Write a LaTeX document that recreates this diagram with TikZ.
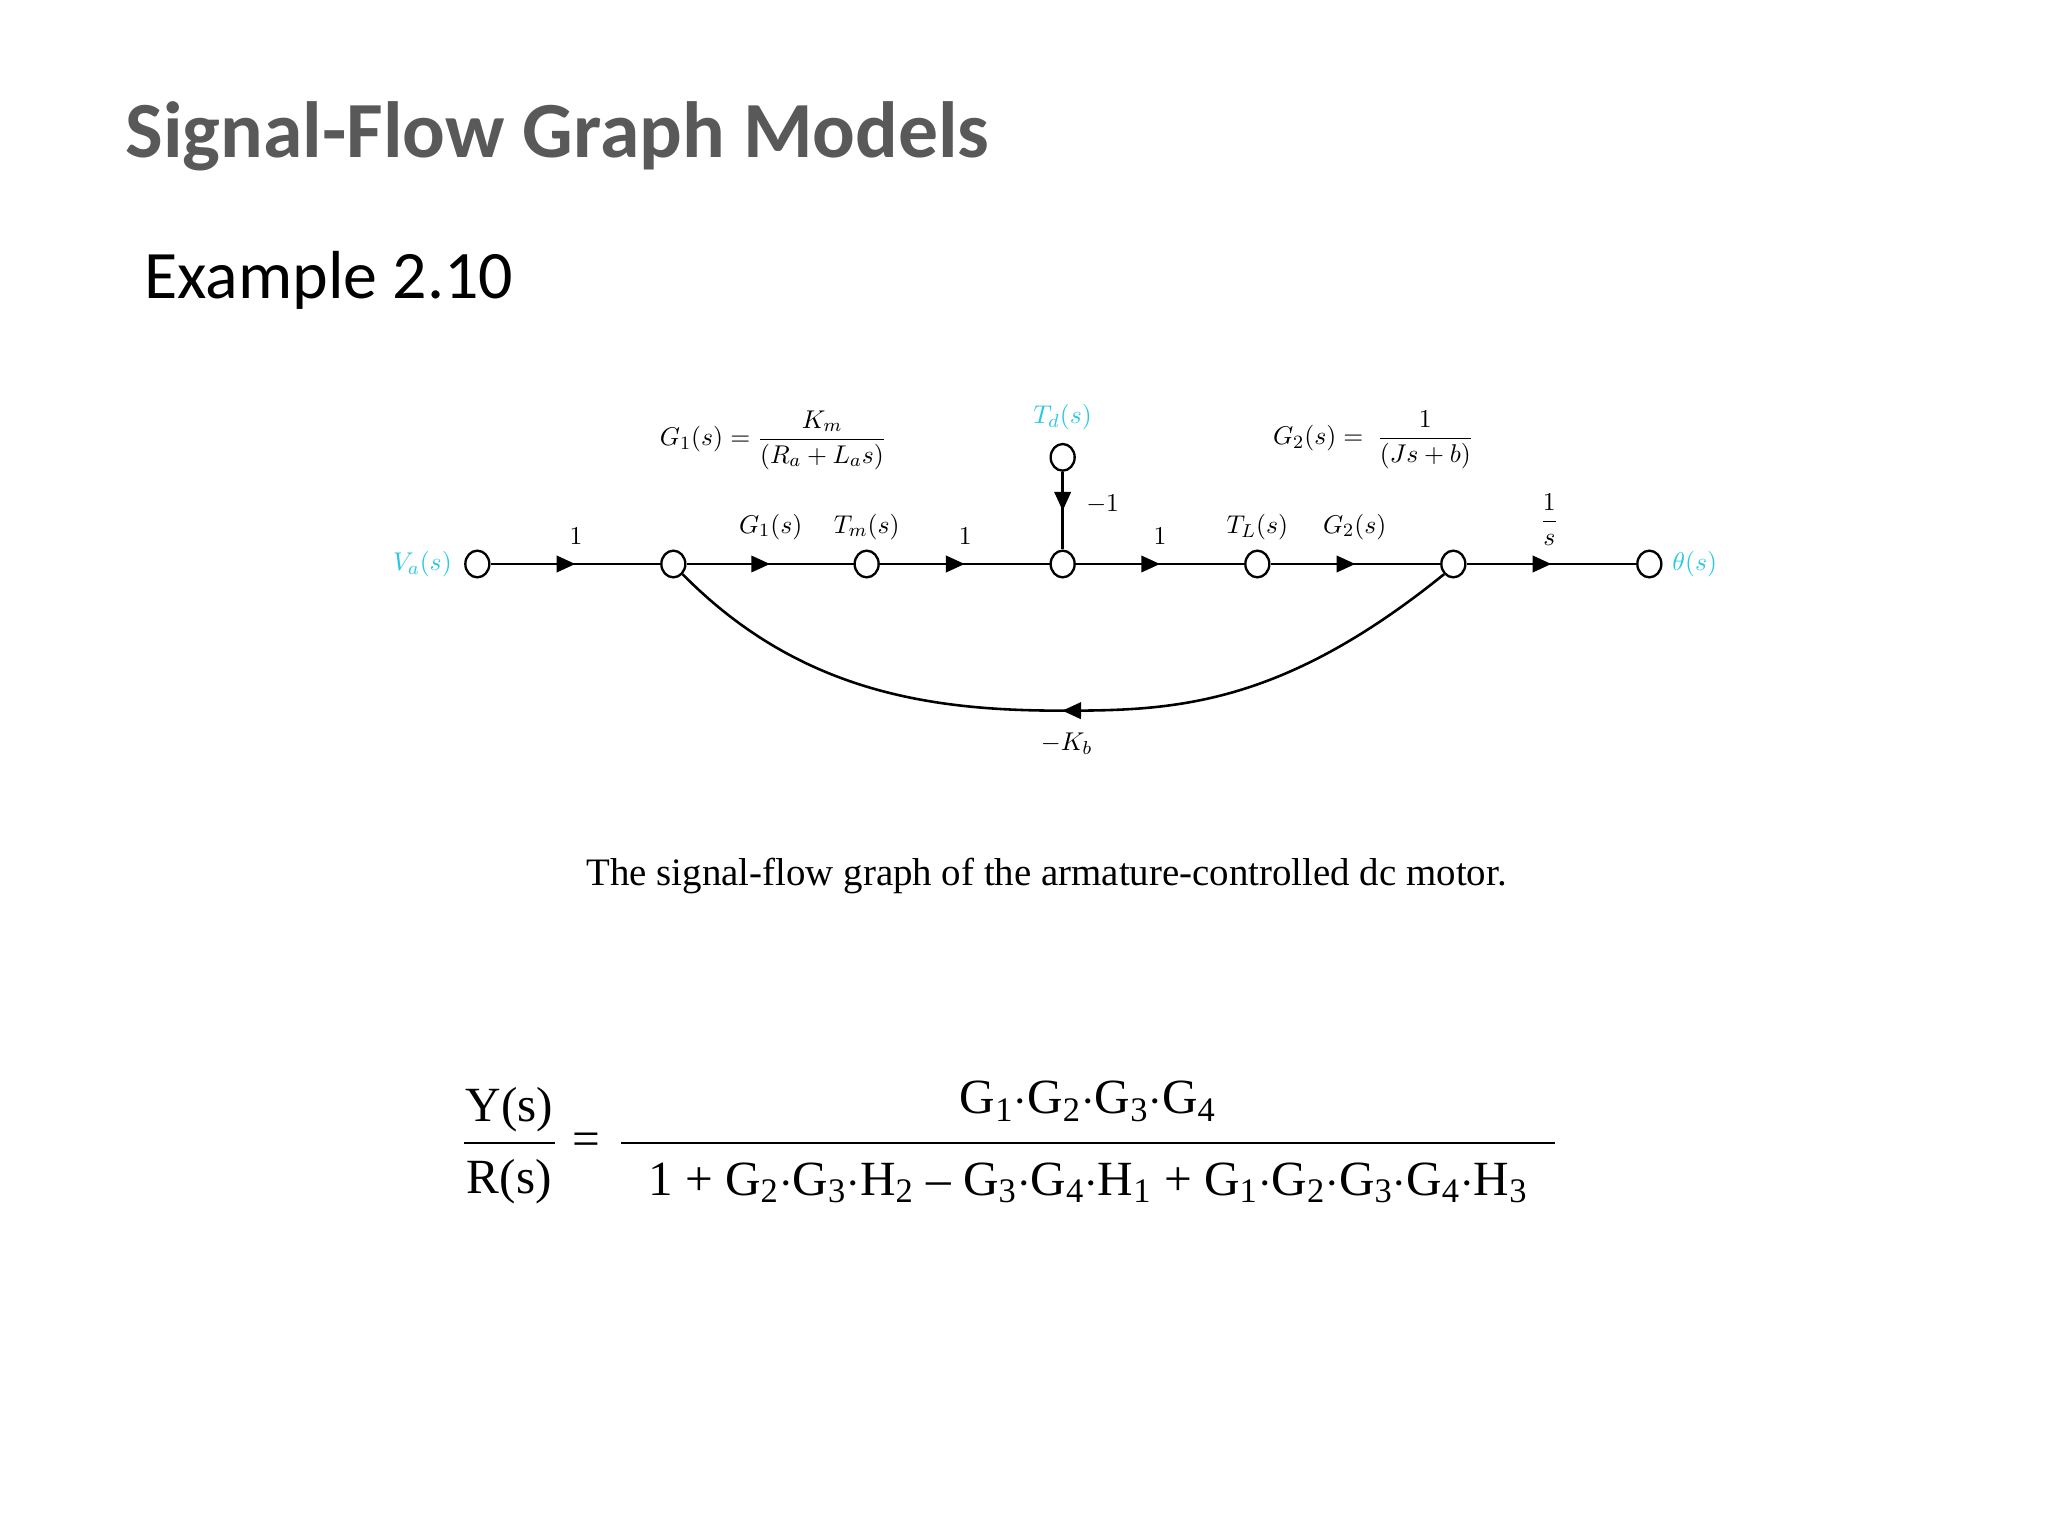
\documentclass[tikz,border=0pt]{standalone}
\usepackage{fontspec}
\setmainfont{Liberation Serif}
\newfontfamily\titlefont{Carlito}
\usetikzlibrary{arrows.meta,decorations.markings,shapes.geometric}
\definecolor{titlegrey}{RGB}{89,89,89}
\definecolor{cy}{RGB}{40,200,230}
\begin{document}
\begin{tikzpicture}[x=0.02cm,y=-0.02cm,
  nd/.style={draw,line width=1pt,ellipse,minimum width=18*0.02cm,minimum height=20*0.02cm,inner sep=0pt,fill=white},
  br/.style={line width=1.1pt,postaction={decorate},decoration={markings,mark=at position 0.5 with {\arrow{Triangle[length=8pt,width=7pt]}}}},
  lb/.style={font=\fontsize{11}{13}\selectfont}]
\useasboundingbox (0,0) rectangle (1536,1152);
\node[anchor=west,font=\titlefont\bfseries\fontsize{34}{40}\selectfont,text=titlegrey] (title) at (88,102) {Signal-Flow Graph Models};
\node[anchor=west,font=\titlefont\fontsize{29}{34}\selectfont] (ex) at (102,210) {Example 2.10};
% nodes
\foreach \n/\x in {va/358,n1/505,n2/650,n3/797,n4/943,n5/1090,th/1237}
  \node[nd] (\n) at (\x,423) {};
\node[nd] (td) at (797,343) {};
\draw[br] (va) -- (n1);
\draw[br] (n1) -- (n2);
\draw[br] (n2) -- (n3);
\draw[br] (n3) -- (n4);
\draw[br] (n4) -- (n5);
\draw[br] (n5) -- (th);
\draw[br] (td) -- (n3);
\draw[br] (n5.south west) .. controls (960,530) and (880,533) .. (797,533) .. controls (700,533) and (600,520) .. (n1.south east);
% labels
\node[lb] (l1) at (432,402) {$1$};
\node[lb] (lg1) at (578,395) {$G_1(s)$};
\node[lb] (ltm) at (650,395) {$T_m(s)$};
\node[lb] (l2) at (724,402) {$1$};
\node[lb] (lm1) at (827,378) {$-1$};
\node[lb] (l3) at (870,402) {$1$};
\node[lb] (ltl) at (943,395) {$T_L(s)$};
\node[lb] (lg2) at (1016,395) {$G_2(s)$};
\node[lb] (ls) at (1162,390) {$\displaystyle\frac{1}{s}$};
\node[lb,text=cy,anchor=east] (lva) at (345,423) {$V_a(s)$};
\node[lb,text=cy,anchor=west] (lth) at (1248,423) {$\theta(s)$};
\node[lb,text=cy] (ltd) at (797,313) {$T_d(s)$};
\node[lb] (lkb) at (800,558) {$-K_b$};
\node[lb] (fg1) at (580,330) {$G_1(s)=\displaystyle\frac{K_m}{(R_a+L_as)}$};
\node[lb] (fg2) at (1030,330) {$G_2(s)=\ \displaystyle\frac{1}{(Js+b)}$};
\node[font=\fontsize{16.6}{19}\selectfont] (cap) at (785,657) {The signal-flow graph of the armature-controlled dc motor.};
% equation
\begin{scope}[font=\fontsize{21}{24}\selectfont]
\node (ys) at (382,832) {Y(s)};
\node (rs) at (382,886) {R(s)};
\draw[line width=1pt] (348,857) -- (416,857);
\node (eq) at (440,858) {=};
\node (num) at (816,826) {G\textsubscript{1}$\cdot$G\textsubscript{2}$\cdot$G\textsubscript{3}$\cdot$G\textsubscript{4}};
\draw[line width=1pt] (466,857) -- (1166,857);
\node (den) at (816,887) {1 + G\textsubscript{2}$\cdot$G\textsubscript{3}$\cdot$H\textsubscript{2} -- G\textsubscript{3}$\cdot$G\textsubscript{4}$\cdot$H\textsubscript{1} + G\textsubscript{1}$\cdot$G\textsubscript{2}$\cdot$G\textsubscript{3}$\cdot$G\textsubscript{4}$\cdot$H\textsubscript{3}};
\end{scope}
\end{tikzpicture}
\end{document}
